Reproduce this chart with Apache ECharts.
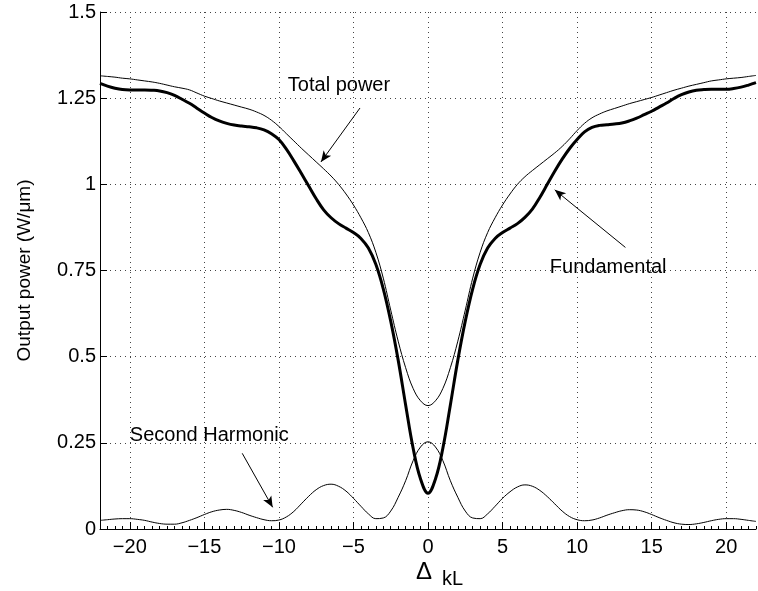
<!DOCTYPE html>
<html>
<head>
<meta charset="utf-8">
<script src="https://cdn.jsdelivr.net/npm/echarts@6/dist/echarts.min.js"></script>
<style>
html,body{margin:0;padding:0;background:#fff;}
#chart{width:758px;height:591px;}
</style>
</head>
<body>
<div id="chart"></div>
<script>
// Phase mismatch values (Δ kL)
const xValues = [-22,-21.5,-21,-20.5,-20,-19.5,-19,-18.5,-18,-17.5,-17,-16.5,-16,-15.5,-15,-14.5,-14,-13.5,-13,-12.5,-12,-11.5,-11,-10.5,-10,-9.5,-9,-8.5,-8,-7.5,-7,-6.5,-6,-5.5,-5,-4.5,-4,-3.5,-3,-2.5,-2,-1.5,-1,-0.5,0,0.5,1,1.5,2,2.5,3,3.5,4,4.5,5,5.5,6,6.5,7,7.5,8,8.5,9,9.5,10,10.5,11,11.5,12,12.5,13,13.5,14,14.5,15,15.5,16,16.5,17,17.5,18,18.5,19,19.5,20,20.5,21,21.5,22];

// Fundamental output power (W/µm)
const fundamental = [1.293,1.285,1.279,1.275,1.274,1.274,1.274,1.273,1.271,1.266,1.258,1.247,1.235,1.221,1.207,1.194,1.184,1.177,1.172,1.169,1.167,1.164,1.158,1.147,1.130,1.102,1.068,1.032,0.995,0.958,0.926,0.903,0.886,0.873,0.860,0.843,0.815,0.768,0.697,0.603,0.490,0.360,0.235,0.145,
0.104,
0.145,0.235,0.360,0.490,0.603,0.697,0.768,0.815,0.843,0.860,0.873,0.886,0.904,0.928,0.962,1.000,1.038,1.073,1.104,1.130,1.152,1.165,1.171,1.173,1.175,1.178,1.184,1.192,1.202,1.212,1.224,1.236,1.249,1.260,1.268,1.273,1.275,1.276,1.276,1.276,1.278,1.282,1.288,1.295];

// Total output power
const totalPower = [1.315,1.313,1.311,1.308,1.306,1.303,1.300,1.297,1.293,1.288,1.283,1.279,1.274,1.265,1.256,1.249,1.242,1.236,1.230,1.224,1.218,1.210,1.200,1.186,1.168,1.147,1.126,1.105,1.085,1.065,1.045,1.024,1.000,0.972,0.940,0.903,0.860,0.803,0.728,0.635,0.545,0.468,0.408,0.372,
0.358,
0.372,0.408,0.468,0.545,0.635,0.728,0.803,0.860,0.903,0.940,0.972,1.000,1.022,1.040,1.057,1.074,1.091,1.110,1.132,1.156,1.177,1.193,1.204,1.213,1.220,1.227,1.234,1.240,1.246,1.252,1.259,1.266,1.273,1.279,1.285,1.290,1.295,1.300,1.303,1.306,1.308,1.310,1.313,1.316];

// Second harmonic output power
const secondHarmonic = [0.025,0.027,0.029,0.030,0.030,0.028,0.025,0.020,0.016,0.014,0.014,0.018,0.025,0.033,0.042,0.050,0.055,0.057,0.054,0.048,0.040,0.033,0.027,0.024,0.026,0.035,0.051,0.073,0.095,0.114,0.126,0.130,0.124,0.110,0.089,0.066,0.044,0.030,0.032,0.052,0.092,0.140,0.198,0.238,
0.253,
0.238,0.198,0.140,0.092,0.052,0.032,0.030,0.044,0.066,0.089,0.108,0.122,0.128,0.124,0.112,0.094,0.073,0.052,0.036,0.027,0.024,0.026,0.032,0.040,0.047,0.053,0.056,0.055,0.050,0.042,0.033,0.025,0.018,0.014,0.013,0.015,0.019,0.024,0.028,0.030,0.030,0.028,0.025,0.022];

const xTicks = [-20,-15,-10,-5,0,5,10,15,20];
const yTicks = [0,0.25,0.5,0.75,1,1.25,1.5];

// Annotations (data coordinates)
const annotations = [
  {text:'Total power', at:[-9.4,1.288], from:[-4.56,1.2215], to:[-7.18,1.065]},
  {text:'Fundamental', at:[8.17,0.758], from:[13.24,0.817], to:[8.50,0.984]},
  {text:'Second Harmonic', at:[-20,0.271], from:[-12.46,0.2196], to:[-10.42,0.063]}
];

const FONT = "'Liberation Sans', Arial, Helvetica, sans-serif";
const chart = echarts.init(document.getElementById('chart'), null, {renderer:'canvas'});

const pairs = arr => xValues.map((x,i)=>[x, arr[i]]);
const fmtX = v => v < 0 ? '\u2212' + Math.abs(v) : String(v);
const dotted = {color:'#444', width:1, type:[1,4]};

chart.setOption({
  animation:false,
  backgroundColor:'#fff',
  grid:{left:100, right:2, top:12, bottom:62, containLabel:false},
  xAxis:[{
    type:'value', min:-22, max:22,
    axisLine:{show:true, onZero:false, lineStyle:{color:'#000', width:1}},
    axisTick:{show:true, inside:true, length:7, customValues:xTicks, lineStyle:{color:'#000'}},
    axisLabel:{show:true, customValues:xTicks, formatter:fmtX, color:'#000', fontSize:20, fontFamily:FONT, margin:8},
    splitLine:{show:true, lineStyle:dotted}
  },{
    type:'value', min:-22, max:22, interval:0.5, position:'bottom',
    axisLine:{show:false, onZero:false},
    axisTick:{show:true, inside:true, length:3, lineStyle:{color:'#000'}},
    axisLabel:{show:false},
    splitLine:{show:false}
  }],
  yAxis:{
    type:'value', min:0, max:1.5, interval:0.25,
    axisLine:{show:true, onZero:false, lineStyle:{color:'#000', width:1}},
    axisTick:{show:true, inside:true, length:7, customValues:yTicks, lineStyle:{color:'#000'}},
    axisLabel:{color:'#000', fontSize:20, fontFamily:FONT, margin:4, customValues:yTicks},
    splitLine:{show:true, lineStyle:dotted},
    name:'Output power (W/\u03bcm)', nameLocation:'middle', nameGap:66,
    nameTextStyle:{color:'#000', fontSize:19, fontFamily:FONT}
  },
  series:[
    {
      name:'Total power', type:'line', data:pairs(totalPower), showSymbol:false, smooth:0.4,
      lineStyle:{color:'#000', width:1}, z:3
    },
    {
      name:'Fundamental', type:'line', data:pairs(fundamental), showSymbol:false, smooth:0.4,
      lineStyle:{color:'#000', width:3}, z:4
    },
    {
      name:'Second Harmonic', type:'line', data:pairs(secondHarmonic), showSymbol:false, smooth:0.4,
      lineStyle:{color:'#000', width:1}, z:3,
      markLine:{
        silent:true, animation:false,
        symbol:['none','arrow'], symbolSize:[7,11],
        lineStyle:{color:'#000', width:1, type:'solid'},
        label:{show:false},
        emphasis:{disabled:true},
        data: annotations.map(a => [{coord:a.from}, {coord:a.to}])
      },
      markPoint:{
        silent:true, animation:false,
        symbol:'circle', symbolSize:0,
        label:{show:true, position:'right', distance:0, color:'#000', fontSize:20, fontFamily:FONT,
               formatter: p => p.name},
        data: annotations.map(a => ({name:a.text, coord:a.at}))
      }
    }
  ],
  graphic:[
    {type:'text', left:416, top:560, style:{text:'\u0394', font:'24px ' + FONT, fill:'#000'}},
    {type:'text', left:442, top:569, style:{text:'kL', font:'20px ' + FONT, fill:'#000'}}
  ]
});
</script>
</body>
</html>
